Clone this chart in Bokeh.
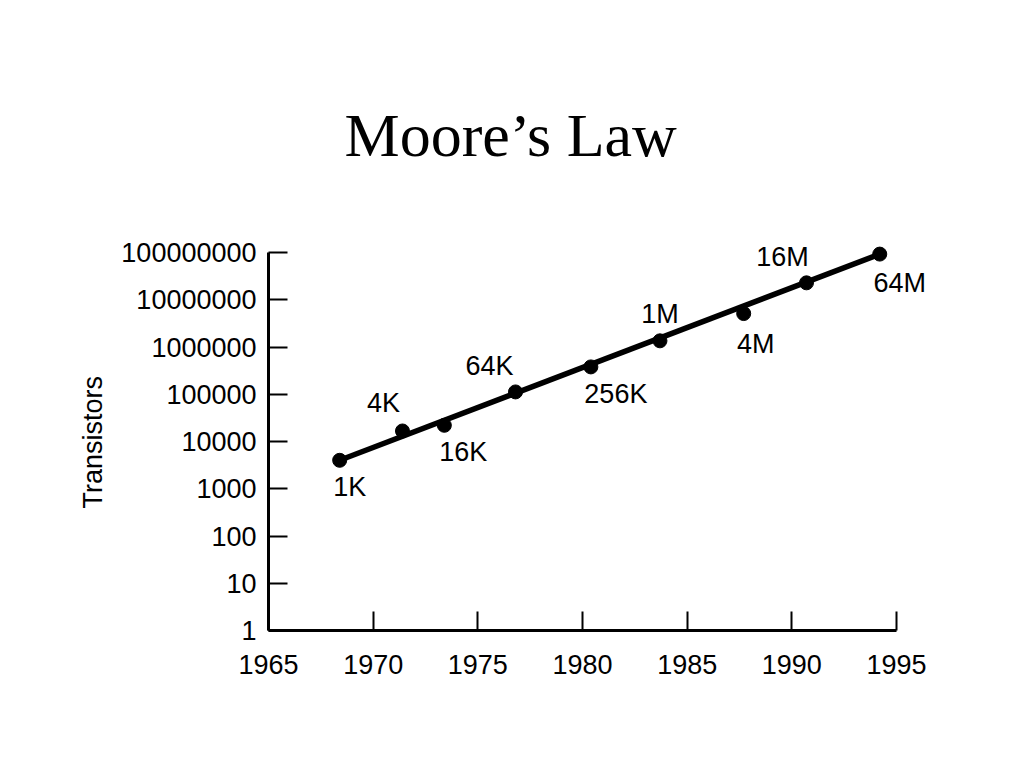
from bokeh.plotting import figure
from bokeh.models import Range1d, FixedTicker, NumeralTickFormatter, ColumnDataSource, Title
from bokeh.embed import file_html
from bokeh.resources import INLINE
from bokeh.core.properties import value

# ---- data ----
years = [1968.4, 1971.4, 1973.4, 1976.8, 1980.4, 1983.7, 1987.7, 1990.7, 1994.2]
transistors = [4000, 16700, 22000, 112000, 379000, 1350000, 5100000, 22800000, 92500000]
chip_labels = ["1K", "4K", "16K", "64K", "256K", "1M", "4M", "16M", "64M"]
trend_years = [1968.4, 1994.2]
trend_values = [4000, 92500000]
x_ticks = [1965, 1970, 1975, 1980, 1985, 1990, 1995]
y_ticks = [1, 10, 100, 1000, 10000, 100000, 1000000, 10000000, 100000000]

# label placement (style, pixels relative to each point)
label_dx = [10, -19, 19, -26, 25, 0, 12, -24, 20]
label_dy = [27, -28, 27, -26, 27, -27, 30, -26, 29]

SANS = "Liberation Sans"

# layout in pixels
W, H = 1008, 752
frame_left, frame_bottom, frame_top, frame_right = 268, 630, 225, 945
axis_x_end, axis_y_top = 896, 252          # pixel where 1995 / 1e8 sit
year_px = (axis_x_end - frame_left) / (x_ticks[-1] - x_ticks[0])
decade_px = (frame_bottom - axis_y_top) / 8.0
x_end = x_ticks[0] + (frame_right - frame_left) / year_px
y_end = 10 ** ((frame_bottom - frame_top) / decade_px)

p = figure(width=W, height=H, output_backend="svg", toolbar_location=None,
           y_axis_type="log", x_range=Range1d(x_ticks[0], x_end), y_range=Range1d(1, y_end),
           min_border_left=frame_left, min_border_right=W - frame_right,
           min_border_top=frame_top, min_border_bottom=H - frame_bottom)
p.outline_line_color = None
p.xgrid.visible = False
p.ygrid.visible = False
p.background_fill_color = "white"
p.border_fill_color = "white"

p.title.text = "Moore\u2019s Law"
p.title.text_font = "Liberation Serif"
p.title.text_font_size = "62px"
p.title.text_font_style = "normal"
p.title.text_color = "black"
p.title.align = "left"
p.title.offset = 76
p.title.standoff = 114

for ax in (p.xaxis[0], p.yaxis[0]):
    ax.axis_line_width = 3
    ax.axis_line_color = "black"
    ax.major_tick_line_width = 2
    ax.major_tick_line_color = "black"
    ax.major_tick_in = 19
    ax.major_tick_out = 0
    ax.minor_tick_line_color = None
    ax.major_label_text_font = SANS
    ax.major_label_text_font_size = "27px"
    ax.major_label_text_color = "black"

p.xaxis.bounds = (x_ticks[0], x_ticks[-1])
p.yaxis.bounds = (y_ticks[0], y_ticks[-1])
p.xaxis.ticker = FixedTicker(ticks=x_ticks)
p.yaxis.ticker = FixedTicker(ticks=y_ticks)
p.yaxis.formatter = NumeralTickFormatter(format="0")
p.xaxis.major_label_standoff = 24
p.yaxis.major_label_standoff = 12

# y-axis title, centred on the drawn axis (1 .. 1e8) rather than the frame
y_title = Title(text="Transistors", text_font=SANS, text_font_size="27px",
                text_font_style="normal", text_color="black",
                align="left", offset=122, standoff=22)
p.add_layout(y_title, "left")

p.line(trend_years, trend_values, line_width=5.5, line_color="black")
p.scatter(years, transistors, size=14, color="black")

src = ColumnDataSource(dict(x=years, y=transistors, t=chip_labels, dx=label_dx, dy=label_dy))
p.text(x="x", y="y", text="t", x_offset="dx", y_offset="dy", source=src,
       text_font=value(SANS), text_font_size="27px", text_color="black",
       text_align="center", text_baseline="middle")

open("out.html", "w").write(file_html(p, INLINE))
